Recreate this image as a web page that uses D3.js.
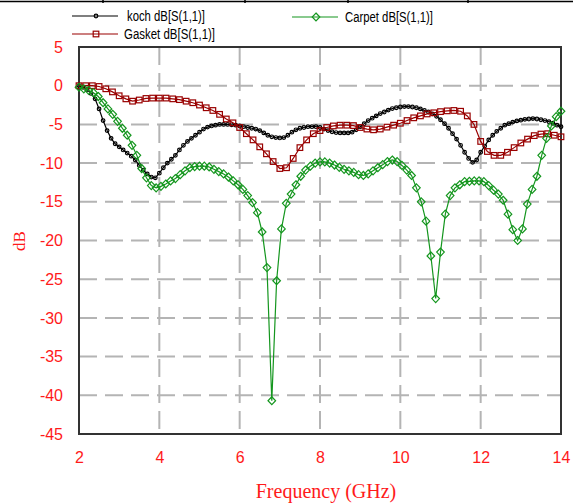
<!DOCTYPE html>
<html lang="en">
<head>
<meta charset="utf-8">
<script src="https://d3js.org/d3.v7.min.js"></script>
<style>
  body { margin: 0; background: #fff; }
  svg { display: block; }
</style>
</head>
<body>
<script>
// S11 of three fractal antennas
var xTicks = [2, 4, 6, 8, 10, 12, 14];
var yTicks = [5, 0, -5, -10, -15, -20, -25, -30, -35, -40, -45];

// koch, sampled every 0.1 GHz
var kochFreq = [2.0,2.1,2.2,2.3,2.4,2.5,2.6,2.7,2.8,2.9,3.0,3.1,3.2,3.3,3.4,3.5,3.6,3.7,3.8,3.9,
  4.0,4.1,4.2,4.3,4.4,4.5,4.6,4.7,4.8,4.9,5.0,5.1,5.2,5.3,5.4,5.5,5.6,5.7,5.8,5.9,
  6.0,6.1,6.2,6.3,6.4,6.5,6.6,6.7,6.8,6.9,7.0,7.1,7.2,7.3,7.4,7.5,7.6,7.7,7.8,7.9,
  8.0,8.1,8.2,8.3,8.4,8.5,8.6,8.7,8.8,8.9,9.0,9.1,9.2,9.3,9.4,9.5,9.6,9.7,9.8,9.9,
  10.0,10.1,10.2,10.3,10.4,10.5,10.6,10.7,10.8,10.9,11.0,11.1,11.2,11.3,11.4,11.5,11.6,11.7,11.8,11.9,
  12.0,12.1,12.2,12.3,12.4,12.5,12.6,12.7,12.8,12.9,13.0,13.1,13.2,13.3,13.4,13.5,13.6,13.7,13.8,13.9,14.0];
var kochDb = [0,-0.2,-0.5,-1.0,-1.7,-3.0,-4.5,-5.8,-6.8,-7.5,-7.9,-8.3,-8.7,-9.1,-9.6,-10.3,-10.9,-11.4,-11.8,-11.9,
  -11.3,-10.6,-10.0,-9.5,-9.0,-8.3,-7.7,-7.2,-6.8,-6.4,-6.0,-5.6,-5.35,-5.2,-5.1,-5.0,-5.0,-5.0,-5.05,-5.1,
  -5.2,-5.3,-5.4,-5.5,-5.6,-5.8,-6.1,-6.4,-6.6,-6.7,-6.75,-6.7,-6.4,-6.0,-5.7,-5.5,-5.4,-5.3,-5.3,-5.3,
  -5.4,-5.6,-5.8,-5.95,-6.05,-6.1,-6.1,-6.1,-6.0,-5.7,-5.3,-4.9,-4.5,-4.2,-3.9,-3.6,-3.4,-3.15,-2.95,-2.85,
  -2.75,-2.7,-2.7,-2.75,-2.85,-3.0,-3.2,-3.4,-3.65,-3.95,-4.4,-4.9,-5.5,-6.2,-6.9,-7.7,-8.6,-9.4,-9.9,-9.6,
  -8.6,-7.8,-7.0,-6.4,-5.9,-5.5,-5.1,-4.9,-4.7,-4.55,-4.45,-4.35,-4.3,-4.25,-4.3,-4.4,-4.5,-4.65,-4.85,-5.1,-5.3];

// gasket, sampled every 1/6 GHz
var gasketFreq = [2.0,2.167,2.333,2.5,2.667,2.833,3.0,3.167,3.333,3.5,3.667,3.833,
  4.0,4.167,4.333,4.5,4.667,4.833,5.0,5.167,5.333,5.5,5.667,5.833,
  6.0,6.167,6.333,6.5,6.667,6.833,7.0,7.167,7.333,7.5,7.667,7.833,
  8.0,8.167,8.333,8.5,8.667,8.833,9.0,9.167,9.333,9.5,9.667,9.833,
  10.0,10.167,10.333,10.5,10.667,10.833,11.0,11.167,11.333,11.5,11.667,11.833,
  12.0,12.167,12.333,12.5,12.667,12.833,13.0,13.167,13.333,13.5,13.667,13.833,14.0];
var gasketDb = [0,0,0,-0.1,-0.4,-0.8,-1.3,-1.7,-2.0,-1.85,-1.65,-1.6,
  -1.6,-1.6,-1.7,-1.8,-2.0,-2.2,-2.5,-2.85,-3.2,-3.7,-4.3,-4.8,
  -5.4,-6.2,-7.0,-7.9,-8.8,-9.8,-10.7,-10.6,-9.4,-8.0,-7.0,-6.2,
  -5.8,-5.4,-5.2,-5.1,-5.1,-5.15,-5.4,-5.6,-5.7,-5.6,-5.35,-5.1,
  -4.85,-4.5,-4.15,-3.9,-3.65,-3.5,-3.35,-3.25,-3.2,-3.3,-3.9,-5.0,
  -7.2,-8.5,-9.0,-9.0,-8.6,-8.0,-7.4,-6.9,-6.45,-6.25,-6.2,-6.4,-6.6];

// carpet, sampled every 0.12 GHz
var carpetFreq = [2.0,2.12,2.24,2.36,2.48,2.6,2.72,2.84,2.96,3.08,3.2,3.32,3.44,3.56,3.68,3.8,3.92,
  4.04,4.16,4.28,4.4,4.52,4.64,4.76,4.88,5.0,5.12,5.24,5.36,5.48,5.6,5.72,5.84,5.96,
  6.08,6.2,6.32,6.44,6.56,6.68,6.8,6.92,7.04,7.16,7.28,7.4,7.52,7.64,7.76,7.88,
  8.0,8.12,8.24,8.36,8.48,8.6,8.72,8.84,8.96,9.08,9.2,9.32,9.44,9.56,9.68,9.8,9.92,
  10.04,10.16,10.28,10.4,10.52,10.64,10.76,10.88,11.0,11.12,11.24,11.36,11.48,11.6,11.72,11.84,11.96,
  12.08,12.2,12.32,12.44,12.56,12.68,12.8,12.92,13.04,13.16,13.28,13.4,13.52,13.64,13.76,13.88,14.0];
var carpetDb = [-0.2,-0.4,-0.6,-0.9,-1.4,-2.2,-3.0,-3.7,-4.6,-5.5,-6.4,-7.7,-9.0,-10.7,-11.9,-12.9,-13.2,
  -13.0,-12.7,-12.3,-12.0,-11.5,-11.0,-10.6,-10.45,-10.4,-10.4,-10.5,-10.8,-11.1,-11.4,-11.8,-12.3,-12.8,
  -13.4,-14.2,-15.1,-16.4,-18.9,-23.5,-40.7,-25.2,-18.5,-15.2,-14.0,-12.8,-11.7,-10.9,-10.4,-10.0,
  -9.85,-9.85,-10.0,-10.25,-10.55,-10.8,-11.0,-11.2,-11.5,-11.6,-11.4,-11.0,-10.6,-10.2,-9.8,-9.6,-9.8,
  -10.3,-10.9,-11.6,-13.2,-15.0,-17.5,-22.0,-27.5,-21.5,-16.6,-14.2,-13.2,-12.8,-12.4,-12.35,-12.3,-12.3,
  -12.4,-12.9,-13.5,-14.0,-14.8,-16.6,-18.6,-20.0,-18.5,-15.3,-13.4,-11.7,-9.0,-6.8,-5.2,-4.0,-3.3];

const W = 573, H = 503;
const margin = {top: 47, right: 12, bottom: 69, left: 79};
const red = "#ff1a1a";
const kochColor = "#000000", gasketColor = "#990000", carpetColor = "#14961e";

const svg = d3.select("body").append("svg")
  .attr("width", W).attr("height", H);

// edge of the document table above the figure
svg.append("line").attr("x1", 0).attr("x2", W).attr("y1", 1.5).attr("y2", 1.5)
  .attr("stroke", "#000").attr("stroke-width", 1.5);
[103, 245, 348, 468].forEach(function(px) {
  svg.append("line").attr("x1", px).attr("x2", px).attr("y1", 0).attr("y2", 3)
    .attr("stroke", "#000").attr("stroke-width", 1.5);
});

const x = d3.scaleLinear().domain([2, 14]).range([margin.left, W - margin.right]);
const y = d3.scaleLinear().domain([-45, 5]).range([H - margin.bottom, margin.top]);

// grid
const grid = svg.append("g").attr("stroke", "#b4b4b4").attr("stroke-width", 2)
  .attr("stroke-dasharray", "18,8");
grid.selectAll("line.h").data(yTicks.filter(function(d) { return d > -45 && d < 5; }))
  .enter().append("line")
  .attr("x1", x(2)).attr("x2", x(14))
  .attr("y1", function(d) { return y(d); }).attr("y2", function(d) { return y(d); });
grid.selectAll("line.v").data(xTicks.filter(function(d) { return d > 2 && d < 14; }))
  .enter().append("line")
  .attr("y1", y(5)).attr("y2", y(-45))
  .attr("x1", function(d) { return x(d); }).attr("x2", function(d) { return x(d); });

// frame
svg.append("rect")
  .attr("x", x(2)).attr("y", y(5))
  .attr("width", x(14) - x(2)).attr("height", y(-45) - y(5))
  .attr("fill", "none").attr("stroke", "#333").attr("stroke-width", 2);

// axes, only labels
const xAxis = svg.append("g")
  .attr("transform", "translate(0," + y(-45) + ")")
  .call(d3.axisBottom(x).tickValues(xTicks).tickSize(0).tickPadding(18));
const yAxis = svg.append("g")
  .attr("transform", "translate(" + x(2) + ",0)")
  .call(d3.axisLeft(y).tickValues(yTicks).tickSize(0).tickPadding(16));
[xAxis, yAxis].forEach(function(a) {
  a.select(".domain").remove();
  a.selectAll("text")
    .attr("fill", red)
    .style("font-family", "'Liberation Sans', Arial, sans-serif")
    .style("font-size", "16px");
});
// plain hyphen, as in the picture
yAxis.selectAll("text").text(function(d) { return String(d); });

svg.append("text")
  .attr("x", (x(2) + x(14)) / 2 + 6).attr("y", 498)
  .attr("text-anchor", "middle").attr("fill", red)
  .style("font-family", "'Liberation Serif', 'Times New Roman', serif")
  .style("font-size", "20px")
  .text("Frequency (GHz)");

svg.append("text")
  .attr("transform", "translate(25," + 241 + ") rotate(-90)")
  .attr("text-anchor", "middle").attr("fill", red)
  .style("font-family", "'Liberation Serif', 'Times New Roman', serif")
  .style("font-size", "17px")
  .text("dB");

// markers
function circleMark(g) {
  g.append("circle").attr("r", 1.8).attr("fill", "none");
}
function squareMark(g) {
  g.append("rect").attr("x", -2.8).attr("y", -2.8).attr("width", 5.6).attr("height", 5.6)
    .attr("fill", "none");
}
function diamondMark(g) {
  g.append("path").attr("d", "M0,-4L3.8,0L0,4L-3.8,0Z").attr("fill", "none");
}

const series = [
  {name: "koch dB[S(1,1)]", freq: kochFreq, db: kochDb, color: kochColor, mark: circleMark},
  {name: "Gasket dB[S(1,1)]", freq: gasketFreq, db: gasketDb, color: gasketColor, mark: squareMark},
  {name: "Carpet dB[S(1,1)]", freq: carpetFreq, db: carpetDb, color: carpetColor, mark: diamondMark}
];

const line = d3.line()
  .x(function(d) { return x(d[0]); })
  .y(function(d) { return y(d[1]); });

series.forEach(function(s) {
  const pts = d3.zip(s.freq, s.db);
  const g = svg.append("g").attr("stroke", s.color).attr("stroke-width", 1.2);
  g.append("path").datum(pts).attr("fill", "none").attr("d", line);
  g.selectAll("g.m").data(pts).enter().append("g")
    .attr("transform", function(d) { return "translate(" + x(d[0]) + "," + y(d[1]) + ")"; })
    .each(function() { s.mark(d3.select(this)); });
});

// legend
const legendPos = [
  {lx: 72, ly: 16, tx: 127, tw: 78},
  {lx: 72, ly: 34, tx: 124, tw: 91},
  {lx: 292, ly: 17, tx: 345, tw: 88}
];
series.forEach(function(s, i) {
  const p = legendPos[i];
  const g = svg.append("g").attr("stroke", s.color).attr("stroke-width", 1.2);
  g.append("line").attr("x1", p.lx).attr("x2", p.lx + 46).attr("y1", p.ly).attr("y2", p.ly);
  s.mark(g.append("g").attr("transform", "translate(" + (p.lx + 24) + "," + p.ly + ")"));
  svg.append("text")
    .attr("x", p.tx).attr("y", p.ly + 5)
    .attr("fill", "#000")
    .attr("textLength", p.tw)
    .attr("lengthAdjust", "spacingAndGlyphs")
    .style("font-family", "'Liberation Sans', Arial, sans-serif")
    .style("font-size", "14px")
    .text(s.name);
});
</script>
</body>
</html>
